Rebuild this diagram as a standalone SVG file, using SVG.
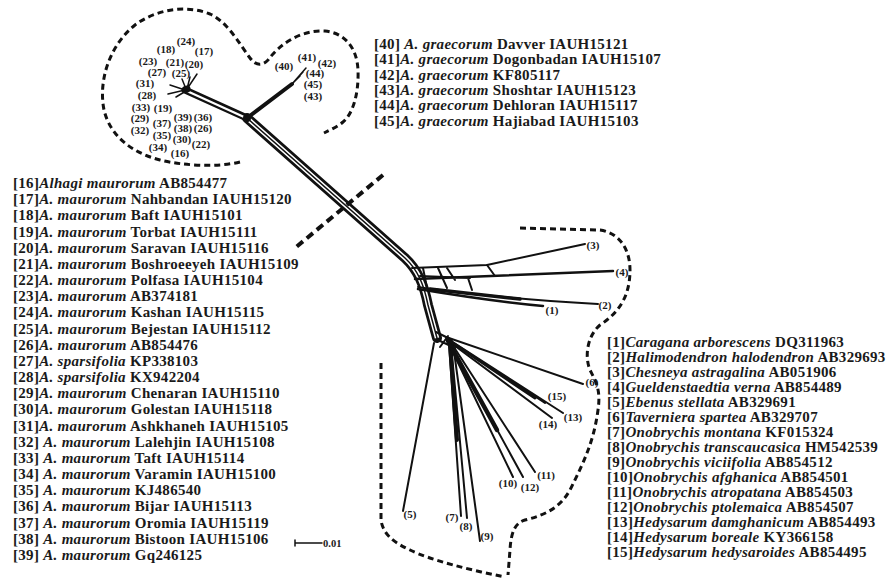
<svg xmlns="http://www.w3.org/2000/svg" width="889" height="579" viewBox="0 0 889 579">
<style>
.lg{font-family:"Liberation Serif","Times New Roman",serif;font-weight:bold;font-size:15px;letter-spacing:0.3px;fill:#1a1a1a}
.it{font-style:italic}
.tl{font-family:"Liberation Serif","Times New Roman",serif;font-weight:bold;font-size:11px;fill:#1a1a1a;text-anchor:middle}
.br{fill:none;stroke:#111;stroke-linecap:round;stroke-linejoin:round}
.dash{fill:none;stroke:#111;stroke-width:3;stroke-dasharray:6 4}
</style>
<rect width="889" height="579" fill="#fff"/>
<g id="connectors">
  <path class="br" d="M247,118 L405,258 C418,270 424,285 428,305 L437,338" stroke-width="10"/>
  <path d="M247,118 L405,258 C418,270 424,285 428,305 L437,338" fill="none" stroke="#fff" stroke-width="4.5"/>
  <path class="br" d="M247,118 L405,258 C418,270 424,285 428,305 L437,338" stroke-width="1.5"/>
  <path class="br" d="M185,90 L247,118" stroke-width="7"/>
  <path d="M188,91.5 L244,117" fill="none" stroke="#fff" stroke-width="2.2"/>
  <circle cx="187" cy="89" r="3.5" fill="#111"/>
  <path class="br" d="M187,89 L197,74 M187,89 L190,77 M186,89 L182,79 M185,90 L170,85 M185,90 L168,94 M186,91 L176,97" stroke-width="1.5"/>
  <circle cx="247" cy="118" r="4" fill="#111"/>
  <path class="br" d="M247,118 L292,84" stroke-width="4"/>
  <path class="br" d="M292,84 L303,72 M292,84 L306,68 M290,86 L300,76" stroke-width="1.5"/>
  <path class="br" d="M412,268 L487,265 L585,244" stroke-width="2"/>
  <path class="br" d="M487,265 L495,276" stroke-width="2"/>
  <path class="br" d="M415,279 L613,271" stroke-width="2.5"/>
  <path class="br" d="M418,287 C450,292 500,298 598,304" stroke-width="2"/>
  <path class="br" d="M418,289 C460,296 500,302 543,306" stroke-width="2.5"/>
  <path class="br" d="M430,289 L520,299" stroke-width="3.5"/>
  <path class="br" d="M423,268 L427,288 M438,268 L447,288 M447,268 L455,280 M468,278 L472,290 M420,276 L470,278" stroke-width="2"/>
  <path class="br" d="M434,343 L403,511" stroke-width="2"/>
  <path class="br" d="M449,344 L461,516 M451,344 L467,518 M453,344 L480,541" stroke-width="2"/>
  <path class="br" d="M450,344 L457,440" stroke-width="4"/>
  <path class="br" d="M448,342 L513,477 M449,342 L523,477 M450,341 L535,472" stroke-width="2"/>
  <path class="br" d="M448,341 L497,430" stroke-width="4.5"/>
  <path class="br" d="M447,340 L552,418 M448,339 L545,403 M448,339 L563,413" stroke-width="2"/>
  <path class="br" d="M447,339 L535,398" stroke-width="3"/>
  <path class="br" d="M446,337 L583,384" stroke-width="2"/>
  <path class="br" d="M436,332 L452,340 M438,340 L455,348 M440,347 L448,336" stroke-width="2"/>
  <path class="dash" d="M240,162 C215,168 180,165 160,160 C130,152 110,135 104,110 C98,80 110,45 135,25 C155,10 185,4 210,14 C228,22 240,45 250,58 C256,66 262,66 268,60 C280,44 300,30 325,31 C345,33 357,48 358,70 C359,95 352,115 343,122 C337,127 330,130 324,133"/>
  <path class="dash" d="M520,228 L600,230 C620,233 630,250 630,270 C630,295 620,312 600,325 C588,335 584,355 590,370 C596,382 601,390 598,410 C594,440 585,460 570,490 C560,508 545,515 525,520 C515,523 511,532 510,550 L508,575"/>
  <path class="dash" d="M381,363 L381,520 C383,535 395,543 410,550 C430,560 470,570 505,577"/>
  <path d="M383,175 L295,248" fill="none" stroke="#111" stroke-width="4" stroke-dasharray="8 5"/>
  <path class="br" d="M295,543 L322,543 M295,540 L295,546" stroke-width="1.5"/>
</g>
<g id="scale"><text x="323" y="547" font-family="Liberation Serif, serif" font-weight="bold" font-size="10.5" fill="#1a1a1a">0.01</text></g>
<g id="tip-labels">
  <text class="tl" x="186" y="45">(24)</text>
  <text class="tl" x="166" y="53">(18)</text>
  <text class="tl" x="204" y="55">(17)</text>
  <text class="tl" x="148" y="65">(23)</text>
  <text class="tl" x="175" y="66">(21)</text>
  <text class="tl" x="194" y="68">(20)</text>
  <text class="tl" x="157" y="76">(27)</text>
  <text class="tl" x="181" y="77">(25)</text>
  <text class="tl" x="145" y="87">(31)</text>
  <text class="tl" x="147" y="99">(28)</text>
  <text class="tl" x="141" y="111">(33)</text>
  <text class="tl" x="163" y="112">(19)</text>
  <text class="tl" x="140" y="122">(29)</text>
  <text class="tl" x="162" y="127">(37)</text>
  <text class="tl" x="183" y="120.5">(39)</text>
  <text class="tl" x="203" y="120.5">(36)</text>
  <text class="tl" x="140" y="134">(32)</text>
  <text class="tl" x="183" y="131.5">(38)</text>
  <text class="tl" x="203" y="132">(26)</text>
  <text class="tl" x="162" y="139">(35)</text>
  <text class="tl" x="182" y="143">(30)</text>
  <text class="tl" x="201" y="148">(22)</text>
  <text class="tl" x="158" y="151">(34)</text>
  <text class="tl" x="180" y="157">(16)</text>
  <text class="tl" x="284" y="70">(40)</text>
  <text class="tl" x="307" y="61">(41)</text>
  <text class="tl" x="327" y="67">(42)</text>
  <text class="tl" x="315" y="77">(44)</text>
  <text class="tl" x="313" y="88">(45)</text>
  <text class="tl" x="313" y="100">(43)</text>
  <text class="tl" x="593" y="249">(3)</text>
  <text class="tl" x="622" y="276">(4)</text>
  <text class="tl" x="605" y="309">(2)</text>
  <text class="tl" x="552" y="314">(1)</text>
  <text class="tl" x="592" y="386">(6)</text>
  <text class="tl" x="557" y="400">(15)</text>
  <text class="tl" x="573" y="421">(13)</text>
  <text class="tl" x="548" y="428">(14)</text>
  <text class="tl" x="546" y="479">(11)</text>
  <text class="tl" x="508" y="487">(10)</text>
  <text class="tl" x="530" y="491">(12)</text>
  <text class="tl" x="410" y="518">(5)</text>
  <text class="tl" x="452" y="521">(7)</text>
  <text class="tl" x="466" y="530">(8)</text>
  <text class="tl" x="487" y="540">(9)</text>
</g>
<g id="legend-graecorum">
  <text class="lg" x="374" y="49">[40] <tspan class="it">A. graecorum</tspan> Davver IAUH15121</text>
  <text class="lg" x="374" y="64.3">[41]<tspan class="it">A. graecorum</tspan> Dogonbadan IAUH15107</text>
  <text class="lg" x="374" y="79.6">[42]<tspan class="it">A. graecorum</tspan> KF805117</text>
  <text class="lg" x="374" y="94.9">[43]<tspan class="it">A. graecorum</tspan> Shoshtar IAUH15123</text>
  <text class="lg" x="374" y="110.2">[44]<tspan class="it">A. graecorum</tspan> Dehloran IAUH15117</text>
  <text class="lg" x="374" y="125.5">[45]<tspan class="it">A. graecorum</tspan> Hajiabad IAUH15103</text>
</g>
<g id="legend-maurorum">
  <text class="lg" x="13" y="188">[16]<tspan class="it">Alhagi maurorum</tspan> AB854477</text>
  <text class="lg" x="13" y="204.2">[17]<tspan class="it">A. maurorum</tspan> Nahbandan IAUH15120</text>
  <text class="lg" x="13" y="220.3">[18]<tspan class="it">A. maurorum</tspan> Baft IAUH15101</text>
  <text class="lg" x="13" y="236.5">[19]<tspan class="it">A. maurorum</tspan> Torbat IAUH15111</text>
  <text class="lg" x="13" y="252.7">[20]<tspan class="it">A. maurorum</tspan> Saravan IAUH15116</text>
  <text class="lg" x="13" y="268.9">[21]<tspan class="it">A. maurorum</tspan> Boshroeeyeh IAUH15109</text>
  <text class="lg" x="13" y="285">[22]<tspan class="it">A. maurorum</tspan> Polfasa IAUH15104</text>
  <text class="lg" x="13" y="301.2">[23]<tspan class="it">A. maurorum</tspan> AB374181</text>
  <text class="lg" x="13" y="317.4">[24]<tspan class="it">A. maurorum</tspan> Kashan IAUH15115</text>
  <text class="lg" x="13" y="333.5">[25]<tspan class="it">A. maurorum</tspan> Bejestan IAUH15112</text>
  <text class="lg" x="13" y="349.7">[26]<tspan class="it">A. maurorum</tspan> AB854476</text>
  <text class="lg" x="13" y="365.9">[27]<tspan class="it">A. sparsifolia</tspan> KP338103</text>
  <text class="lg" x="13" y="382">[28]<tspan class="it">A. sparsifolia</tspan> KX942204</text>
  <text class="lg" x="13" y="398.2">[29]<tspan class="it">A. maurorum</tspan> Chenaran IAUH15110</text>
  <text class="lg" x="13" y="414.4">[30]<tspan class="it">A. maurorum</tspan> Golestan IAUH15118</text>
  <text class="lg" x="13" y="430.6">[31]<tspan class="it">A. maurorum</tspan> Ashkhaneh IAUH15105</text>
  <text class="lg" x="13" y="446.7">[32] <tspan class="it">A. maurorum</tspan> Lalehjin IAUH15108</text>
  <text class="lg" x="13" y="462.9">[33] <tspan class="it">A. maurorum</tspan> Taft IAUH15114</text>
  <text class="lg" x="13" y="479.1">[34] <tspan class="it">A. maurorum</tspan> Varamin IAUH15100</text>
  <text class="lg" x="13" y="495.2">[35] <tspan class="it">A. maurorum</tspan> KJ486540</text>
  <text class="lg" x="13" y="511.4">[36] <tspan class="it">A. maurorum</tspan> Bijar IAUH15113</text>
  <text class="lg" x="13" y="527.6">[37] <tspan class="it">A. maurorum</tspan> Oromia IAUH15119</text>
  <text class="lg" x="13" y="543.8">[38] <tspan class="it">A. maurorum</tspan> Bistoon IAUH15106</text>
  <text class="lg" x="13" y="560">[39] <tspan class="it">A. maurorum</tspan> Gq246125</text>
</g>
<g id="legend-outgroups">
  <text class="lg" x="607" y="346.5">[1]<tspan class="it">Caragana arborescens</tspan> DQ311963</text>
  <text class="lg" x="607" y="361.5">[2]<tspan class="it">Halimodendron halodendron</tspan> AB329693</text>
  <text class="lg" x="607" y="376.6">[3]<tspan class="it">Chesneya astragalina</tspan> AB051906</text>
  <text class="lg" x="607" y="391.6">[4]<tspan class="it">Gueldenstaedtia verna</tspan> AB854489</text>
  <text class="lg" x="607" y="406.7">[5]<tspan class="it">Ebenus stellata</tspan> AB329691</text>
  <text class="lg" x="607" y="421.7">[6]<tspan class="it">Taverniera spartea</tspan> AB329707</text>
  <text class="lg" x="607" y="436.8">[7]<tspan class="it">Onobrychis montana</tspan> KF015324</text>
  <text class="lg" x="607" y="451.8">[8]<tspan class="it">Onobrychis transcaucasica</tspan> HM542539</text>
  <text class="lg" x="607" y="466.9">[9]<tspan class="it">Onobrychis viciifolia</tspan> AB854512</text>
  <text class="lg" x="607" y="481.9">[10]<tspan class="it">Onobrychis afghanica</tspan> AB854501</text>
  <text class="lg" x="607" y="497">[11]<tspan class="it">Onobrychis atropatana</tspan> AB854503</text>
  <text class="lg" x="607" y="512">[12]<tspan class="it">Onobrychis ptolemaica</tspan> AB854507</text>
  <text class="lg" x="607" y="527.1">[13]<tspan class="it">Hedysarum damghanicum</tspan> AB854493</text>
  <text class="lg" x="607" y="542.1">[14]<tspan class="it">Hedysarum boreale</tspan> KY366158</text>
  <text class="lg" x="607" y="557.2">[15]<tspan class="it">Hedysarum hedysaroides</tspan> AB854495</text>
</g>
</svg>
